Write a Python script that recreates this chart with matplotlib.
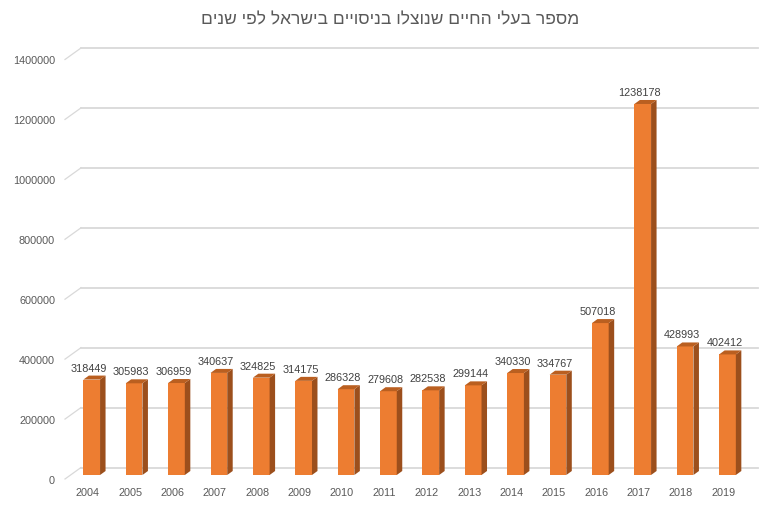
import matplotlib
matplotlib.use("Agg")
import matplotlib.pyplot as plt
from matplotlib.transforms import ScaledTranslation, IdentityTransform
from matplotlib.patches import Polygon
from matplotlib.lines import Line2D

# data
years = ["2004", "2005", "2006", "2007", "2008", "2009", "2010", "2011",
         "2012", "2013", "2014", "2015", "2016", "2017", "2018", "2019"]
animals = [318449, 305983, 306959, 340637, 324825, 314175, 286328, 279608,
           282538, 299144, 340330, 334767, 507018, 1238178, 428993, 402412]
y_ticks = [0, 200000, 400000, 600000, 800000, 1000000, 1200000, 1400000]
title = "מספר בעלי החיים שנוצלו בניסויים בישראל לפי שנים"

plt.rcParams['font.family'] = ['Liberation Sans', 'DejaVu Sans']

front = '#ED7D31'
side = '#9C4F1C'
top = '#BA5F20'
grid_c = '#D9D9D9'
text_c = '#595959'

fig = plt.figure(figsize=(7.8, 5.1), dpi=100)
ax = fig.add_axes([65 / 780, 34 / 510, 693 / 780, 419.5 / 510])
ax.set_xlim(-0.63, 15.72)
ax.set_ylim(0, 1400000)
ax.patch.set_visible(False)
for s in ax.spines.values():
    s.set_visible(False)

# depth of the 3d look in pixels
wall_dx, wall_dy = 16, 7.5
bar_dx, bar_dy = 5.5, 4
width = 0.394

disp = IdentityTransform()
x0 = ax.get_xlim()[0]
x_right = ax.transAxes.transform((1, 0))[0]

# gridlines on the back wall with the slanted floor part
for v in y_ticks:
    gx, gy = ax.transData.transform((x0, v))
    ax.add_line(Line2D([gx, gx + wall_dx], [gy - 4, gy + wall_dy],
                       transform=disp, color=grid_c, lw=0.9, zorder=1, clip_on=False))
    ax.add_line(Line2D([gx + wall_dx, x_right], [gy + wall_dy, gy + wall_dy],
                       transform=disp, color=grid_c, lw=1.3, zorder=1, clip_on=False))

xs = list(range(len(years)))
ax.bar(xs, animals, width=width, color=front, zorder=3)

for i, v in zip(xs, animals):
    lx, by = ax.transData.transform((i - width / 2, 0))
    rx, ty = ax.transData.transform((i + width / 2, v))
    side_pts = [(rx, by), (rx, ty), (rx + bar_dx, ty + bar_dy), (rx + bar_dx, by + bar_dy)]
    top_pts = [(lx, ty), (rx, ty), (rx + bar_dx, ty + bar_dy), (lx + bar_dx, ty + bar_dy)]
    ax.add_patch(Polygon(side_pts, closed=True, transform=disp, color=side, lw=0, zorder=4))
    ax.add_patch(Polygon(top_pts, closed=True, transform=disp, color=top, lw=0, zorder=4))
    ax.annotate(str(v), (i, v), xytext=(-3, 7), textcoords='offset pixels',
                ha='center', va='bottom', fontsize=7.8, color='#404040', zorder=5)

ax.set_xticks(xs)
ax.set_xticklabels(years)
ax.set_yticks(y_ticks)
ax.set_yticklabels([str(t) for t in y_ticks])
ax.tick_params(axis='x', length=0, pad=8.5, labelsize=7.8, labelcolor=text_c)
ax.tick_params(axis='y', length=0, pad=7.2, labelsize=7.8, labelcolor=text_c)
for lab in ax.get_xticklabels():
    lab.set_transform(lab.get_transform() + ScaledTranslation(-0.04, 0, fig.dpi_scale_trans))
for lab in ax.get_yticklabels():
    lab.set_transform(lab.get_transform() + ScaledTranslation(0, -0.04, fig.dpi_scale_trans))

# matplotlib has no bidi support, so reverse the hebrew text for display
fig.text(0.5, 1 - 20 / 510, title[::-1], ha='center', va='center', fontsize=12.5,
         color=text_c)

fig.savefig('out.png', dpi=100, facecolor='white')
